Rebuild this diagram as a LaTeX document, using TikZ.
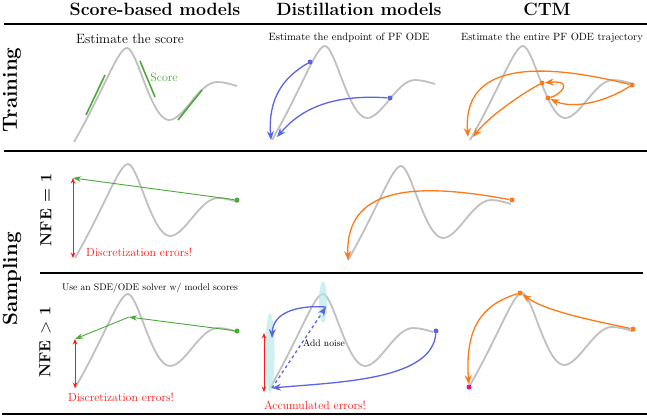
\documentclass[tikz,border=0pt]{standalone}
\usepackage{tikz}
\usetikzlibrary{positioning, arrows.meta, shapes.geometric}
\definecolor{odegray}{RGB}{192,192,192}
\definecolor{scoregreen}{RGB}{74,170,56}
\definecolor{distblue}{RGB}{90,100,228}
\definecolor{ctmorange}{RGB}{255,122,22}
\definecolor{errred}{RGB}{255,22,22}
\definecolor{noisecyan}{RGB}{178,234,234}
\definecolor{startpink}{RGB}{222,24,140}
\tikzset{
	node distance=4pt and 6pt,
	every text node part/.style= {
		align=center
	},
	heading/.style= {
		anchor=base,
		font=\fontsize{17.8}{20}\selectfont\bfseries
	},
	rowlabel/.style= {
		rotate=90,
		font=\fontsize{20.5}{24}\selectfont\bfseries
	},
	nfelabel/.style= {
		rotate=90,
		font=\fontsize{16}{19}\selectfont\bfseries
	},
	caption/.style= {
		anchor=base,
		inner sep=0pt
	},
	errlabel/.style= {
		errred,
		inner sep=0pt,
		font=\fontsize{11.8}{14}\selectfont
	},
	rule/.style= {
		line width=1.1pt
	},
	ode/.style= {
		draw=odegray,
		line width=1.8pt
	},
	tangent/.style= {
		scoregreen,
		line width=1.6pt
	},
	scorearrow/.style= {
		scoregreen,
		line width=0.9pt,
		-{Stealth[length=8pt, width=5.5pt]}
	},
	distil/.style= {
		distblue,
		line width=1.3pt,
		-{Stealth[length=9pt, width=7pt]}
	},
	ctm/.style= {
		ctmorange,
		line width=1.3pt,
		-{Stealth[length=9pt, width=7pt]}
	},
	err/.style= {
		errred,
		line width=0.9pt,
		{Stealth[length=5.5pt, width=4.5pt]}-{Stealth[length=5.5pt, width=4.5pt]}
	},
	dot/.style= {
		circle,
		inner sep=0pt,
		minimum size=5pt
	},
	noise/.style= {
		ellipse,
		inner sep=0pt,
		fill=noisecyan,
		fill opacity=0.65
	},
	odecurve/.pic= {
		\draw[ode] (0,0) .. controls (30,-52) and (44,-94) .. (53,-94)
			.. controls (63,-94) and (77,-22) .. (95,-22)
			.. controls (110,-22) and (125,-60) .. (143,-60)
			.. controls (150,-60) and (156,-58) .. (163,-56);
	}
}

\begin{document}
\begin{tikzpicture}[x=1pt, y=-1pt]
	\useasboundingbox (0,0) rectangle (647,415);

	% headings and rules
	\node (hscore)[heading] at (155,15) {Score-based models};
	\node (hdistil)[heading] at (359,15) {Distillation models};
	\node (hctm)[heading] at (547,15) {CTM};
	\draw[rule] (4,24) -- (647,24);
	\draw[rule] (4,151) -- (647,151);
	\draw[rule] (40,273) -- (643,273);
	\draw[rule] (2,414) -- (647,414);

	\node (training)[rowlabel] at (12,90) {Training};
	\node (sampling)[rowlabel] at (12,279) {Sampling};
	\node (nfeone)[nfelabel] at (46,210) {NFE = 1};
	\node (nfemany)[nfelabel] at (45,342) {NFE $>$ 1};

	% the PF ODE trajectories
	\foreach \sx/\sy in {74/142, 272/140, 470/140, 75/258, 348/260, 75/388, 270/388, 469/387}
	{
		\pic at (\sx,\sy) {odecurve};
	}

	% training: score-based
	\node (capscore)[caption, font=\fontsize{13.5}{16}\selectfont] at (130,43) {Estimate the score};
	\draw[tangent] (86,115) -- (105,75);
	\draw[tangent] (140,61) -- (155,97);
	\draw[tangent] (178,120) -- (202,90);
	\node (scorelbl)[scoregreen, font=\fontsize{12}{14}\selectfont] at (164,77) {Score};

	% training: distillation
	\node (capdistil)[caption, font=\fontsize{10.6}{13}\selectfont] at (349,40) {Estimate the endpoint of PF ODE};
	\node (bA)[dot, fill=distblue] at (310,62) {};
	\node (bB)[dot, fill=distblue] at (390,98) {};
	\coordinate (bEnd) at (271,140);
	\coordinate (bEndB) at (277,137);
	\draw[distil] (bA) .. controls (282,78) and (268,100) .. (bEnd);
	\draw[distil] (bB) .. controls (330,94) and (300,110) .. (bEndB);

	% training: ctm
	\node (capctm)[caption, font=\fontsize{10.5}{13}\selectfont] at (552,40) {Estimate the entire PF ODE trajectory};
	\node (cA)[dot, fill=ctmorange] at (632,85) {};
	\node (cB)[dot, fill=ctmorange] at (548,98) {};
	\node (cC)[dot, fill=ctmorange] at (542,83) {};
	\coordinate (cEnd) at (468,137);
	\coordinate (cEndB) at (473,137);
	\draw[ctm] (cA) .. controls (540,62) and (462,62) .. (cEnd);
	\draw[ctm] (cA) .. controls (600,105) and (570,108) .. (cB);
	\draw[ctm] (cB) .. controls (560,95) and (575,80) .. (cC);
	\draw[ctm] (cC) .. controls (525,92) and (490,115) .. (cEndB);

	% sampling, NFE = 1
	\node (dA)[dot, fill=scoregreen] at (237,200) {};
	\coordinate (dB) at (73,178);
	\coordinate (dC) at (73,258);
	\draw[scorearrow] (dA) -- (dB);
	\draw[err] (dB) -- (dC);
	\node (derr)[errlabel, anchor=west] at (86,252) {Discretization errors!};

	\node (eA)[dot, fill=ctmorange] at (512,200) {};
	\coordinate (eB) at (348,260);
	\draw[ctm] (eA) .. controls (430,185) and (345,180) .. (eB);

	% sampling, NFE > 1
	\node (capsolver)[caption, font=\fontsize{9.6}{12}\selectfont] at (150,290) {Use an SDE/ODE solver w/ model scores};
	\node (fA)[dot, fill=scoregreen] at (237,331) {};
	\coordinate (fB) at (129,317);
	\coordinate (fC) at (75,339);
	\coordinate (fD) at (75,388);
	\draw[scorearrow] (fA) -- (fB);
	\draw[scorearrow] (fB) -- (fC);
	\draw[err] (fC) -- (fD);
	\node (ferr)[errlabel] at (121,397) {Discretization errors!};

	\node (noiseA)[noise, minimum width=9pt, minimum height=80pt] at (270,353) {};
	\node (noiseB)[noise, minimum width=8pt, minimum height=42pt] at (323,302) {};
	\node (gA)[dot, fill=distblue] at (436,331) {};
	\coordinate (gB) at (272,388);
	\coordinate (gC) at (326,307);
	\coordinate (gD) at (272,338);
	\coordinate (gerrA) at (264,333);
	\coordinate (gerrB) at (264,392);
	\draw[distil] (gA) .. controls (432,380) and (340,382) .. (gB);
	\draw[distil, dashed] (gB) -- (gC);
	\draw[distil] (gC) .. controls (298,305) and (273,312) .. (gD);
	\draw[err] (gerrA) -- (gerrB);
	\node (noiselbl)[font=\fontsize{9.6}{12}\selectfont, inner sep=0pt] at (324,343) {Add noise};
	\node (gerr)[errlabel] at (315,405) {Accumulated errors!};

	\node (hA)[dot, fill=ctmorange] at (633,329) {};
	\node (hB)[dot, fill=ctmorange] at (520,293) {};
	\node (hC)[dot, fill=startpink] at (469,387) {};
	\draw[ctm] (hA) .. controls (580,318) and (545,310) .. (hB);
	\draw[ctm] (hB) .. controls (480,305) and (465,330) .. (hC);
\end{tikzpicture}
\end{document}
